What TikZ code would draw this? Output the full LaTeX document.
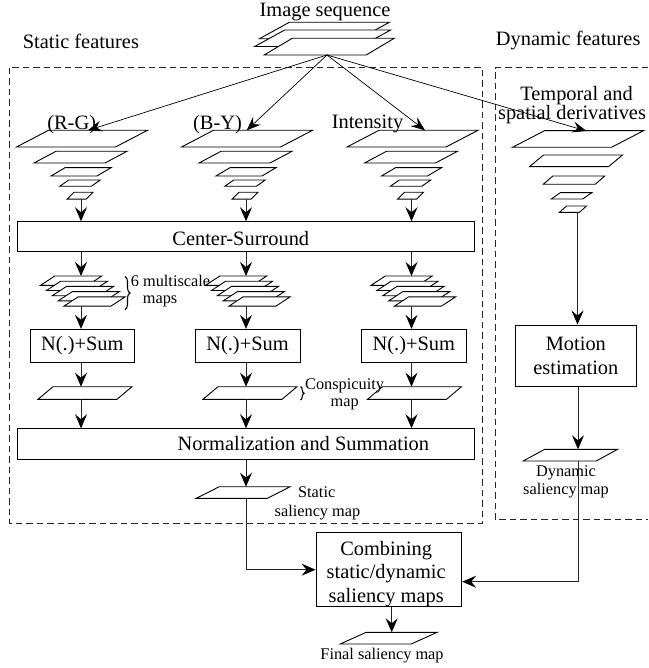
\documentclass[tikz,border=0pt]{standalone}
\usepackage{fontspec}
\setmainfont{Liberation Serif}
\usetikzlibrary{arrows.meta,decorations.pathreplacing}
% parallelogram: name, cx, ytop, ybottom, width, skew, axis x
\newcommand\pgramx[7]{%
 \draw[pgs] ({#2-#5/2-#6/2},#4) -- ({#2+#5/2-#6/2},#4) -- ({#2+#5/2+#6/2},#3) -- ({#2-#5/2+#6/2},#3) -- cycle;%
 \coordinate (#1-n) at (#7,#3);%
 \coordinate (#1-s) at (#7,#4);%
}
\newcommand\staticpyr[2]{%
 \pgramx{#1a}{#2+1}{130.3}{147}{99}{32}{#2}%
 \pgramx{#1b}{#2-0.5}{151.3}{163}{71}{22}{#2}%
 \pgramx{#1c}{#2}{167.7}{176}{46}{14}{#2}%
 \pgramx{#1d}{#2-1}{180}{186.3}{31.5}{9}{#2}%
 \pgramx{#1e}{#2-1}{192.3}{199.2}{19}{7}{#2}%
}
\newcommand\mscalestack[2]{%
 \pgramx{#1m0}{#2-9.8}{276}{285.3}{47}{14.2}{#2}%
 \pgramx{#1m1}{#2-3.95}{281.2}{290.5}{47}{14.2}{#2}%
 \pgramx{#1m2}{#2+1.9}{286.4}{295.7}{47}{14.2}{#2}%
 \pgramx{#1m3}{#2+7.75}{291.6}{300.9}{47}{14.2}{#2}%
 \pgramx{#1m4}{#2+13.6}{296.8}{306.1}{47}{14.2}{#2}%
}
\begin{document}
\begin{tikzpicture}[x=1pt,y=-1pt,
  pgs/.style={draw,fill=white,line width=0.9pt},
  box/.style={draw,line width=0.9pt,inner sep=0pt},
  arr/.style={line width=0.9pt,draw=black!85,-{Stealth[length=14pt,width=12pt,inset=5pt,black]}},
  arrthin/.style={line width=0.7pt,-{Stealth[length=14pt,width=11pt,inset=5pt]}},
  big/.style={font=\fontsize{20.4}{23.5}\selectfont,inner sep=0pt},
  small/.style={font=\fontsize{16.3}{19}\selectfont,inner sep=0pt},
  dashbox/.style={draw=black!85,line width=1pt,dash pattern=on 6.5pt off 4pt},
  brc/.style={decorate,decoration={brace,amplitude=5pt},line width=1.1pt}]
\useasboundingbox (0,0) rectangle (648,668);

% dashed groups
\draw[dashbox] (9.3,67.7) rectangle (482.3,523.3);
\draw[dashbox] (648,67.7) -- (495,67.7) -- (495,519.3) -- (648,519.3);

% image sequence stack
\pgramx{seq1}{324.3}{22.3}{38.8}{100}{30}{327}
\pgramx{seq2}{322.7}{30}{46.5}{106}{30}{327}
\pgramx{seq3}{329.2}{38.3}{55}{102}{28}{327}

% pyramids
\staticpyr{rg}{81}
\staticpyr{by}{246}
\staticpyr{in}{411.5}
\pgramx{tpa}{578}{130.7}{147.3}{99}{32}{577.5}
\pgramx{tpb}{576}{155}{166.7}{79}{14}{577.5}
\pgramx{tpc}{574}{176}{184.3}{52}{9.5}{577.5}
\pgramx{tpd}{571.5}{192.7}{199}{31.5}{9}{577.5}
\pgramx{tpe}{573}{206}{212.3}{20}{7}{577.5}

% multiscale stacks
\mscalestack{rg}{81}
\mscalestack{by}{246}
\mscalestack{in}{411.5}

% conspicuity maps
\pgramx{rgc}{85}{386.7}{399.3}{79}{15}{81}
\pgramx{byc}{250}{386.7}{399.3}{79}{15}{246}
\pgramx{inc}{414.5}{386.7}{399.3}{79}{15}{411.5}

% saliency maps
\pgramx{sm}{243.3}{486.7}{498.3}{71}{23}{246}
\pgramx{dm}{570.4}{449.3}{461}{73}{21.5}{578}
\pgramx{fm}{388.7}{632.3}{644}{71}{26}{391.7}

% boxes
\node[box,minimum width=457pt,minimum height=30pt] (cs) at (245.8,236.7) {};
\node[box,big,minimum width=103.3pt,minimum height=33pt] (n1) at (82.35,345.8) {N(.)+Sum};
\node[box,big,minimum width=105pt,minimum height=33pt] (n2) at (247.5,345.8) {N(.)+Sum};
\node[box,big,minimum width=104.3pt,minimum height=33pt] (n3) at (413.85,345.8) {N(.)+Sum};
\node[box,minimum width=456.7pt,minimum height=30.6pt] (norm) at (245.65,444) {};
\node[box,big,align=center,minimum width=120.3pt,minimum height=61.7pt,
      font=\fontsize{20.4}{24.3}\selectfont] (mot) at (575.85,355.85) {Motion\\estimation};
\node[box,minimum width=145.7pt,minimum height=74pt] (comb) at (388.85,569.7) {};

% texts
\node[big,anchor=base] (title) at (325,16.5) {Image sequence};
\node[big,anchor=base] (stf) at (80.9,48.5) {Static features};
\node[big,anchor=base] (dyf) at (568.2,46) {Dynamic features};
\node[big,anchor=base] (lrg) at (71.7,129.5) {(R-G)};
\node[big,anchor=base] (lby) at (217.5,129.5) {(B-Y)};
\node[big,anchor=base] (lin) at (367.5,128.5) {Intensity};
\node[big,anchor=base] (tp1) at (576.5,100.5) {Temporal and};
\node[big,anchor=base] (tp2) at (572,119.5) {spatial derivatives};
\node[big,anchor=base] (cst) at (240.8,245) {Center-Surround};
\node[big,anchor=base] (normt) at (303.3,450) {Normalization and Summation};
\node[big,align=center,anchor=north] (combt) at (386.2,541.1) {Combining\\static/dynamic\\saliency maps};
\node[small,anchor=base west] (ms1) at (130.7,286) {6 multiscale};
\node[small,anchor=base west] (ms2) at (142.7,303.5) {maps};
\node[small,anchor=base west] (cp1) at (305,389) {Conspicuity};
\node[small,anchor=base] (cp2) at (344.7,406.5) {map};
\node[small,anchor=base] (sm1) at (316.7,497.3) {Static};
\node[small,anchor=base] (sm2) at (317.5,516.7) {saliency map};
\node[small,anchor=base] (dm1) at (566,476) {Dynamic};
\node[small,anchor=base] (dm2) at (566,494.5) {saliency map};
\node[small,anchor=base] (fmt) at (382,659.5) {Final saliency map};

% braces
\draw[brc] (125,276.5) -- (125,309.5);
\draw[brc,decoration={amplitude=3.5pt}] (300.5,386.5) -- (300.5,400);

% arrows from the image sequence
\coordinate (rgin) at (88,130.3);
\coordinate (byin) at (246.7,130.3);
\coordinate (inin) at (425,130.3);
\coordinate (tpin) at (586.5,131);
\draw[arrthin] (seq3-s) -- (rgin);
\draw[arrthin] (seq3-s) -- (byin);
\draw[arrthin] (seq3-s) -- (inin);
\draw[arrthin] (seq3-s) -- (tpin);

% static columns
\foreach \c/\n in {rg/n1,by/n2,in/n3}{
  \draw[arr] (\c e-s) -- (\c e-s |- cs.north);
  \draw[arr] (cs.south -| \c m0-n) -- (\c m0-n);
  \draw[arr] (\c m4-s) -- (\c m4-s |- \n.north);
  \draw[arr] (\n.south -| \c c-n) -- (\c c-n);
  \draw[arr] (\c c-s) -- (\c c-s |- norm.north);
}
\draw[arr] (norm.south -| sm-n) -- (sm-n);
\draw[arr] (sm-s) |- (comb.west);

% dynamic column
\draw[arr] (tpe-s) -- (tpe-s |- mot.north);
\draw[arr] (mot.south -| dm-n) -- (dm-n);
\draw[arr] (dm-s) |- ([yshift=-12pt]comb.east);

% final
\draw[arr] (comb.south -| fm-n) -- (fm-n);
\end{tikzpicture}
\end{document}
